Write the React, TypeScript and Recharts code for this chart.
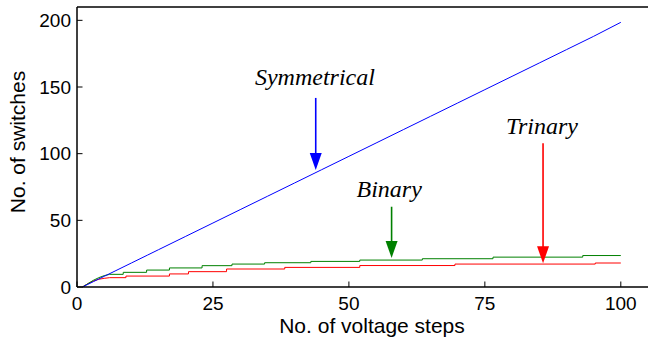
import React from "react";
import { LineChart, Line, XAxis, YAxis, ReferenceLine, ReferenceDot } from "recharts";

// voltage steps (x) and number of switches (y) per topology
const symSteps = [1, 2, 3, 5, 7, 10, 13, 15, 20, 25, 30, 35, 40, 45, 50, 55, 60, 65, 70, 75, 80, 85, 90, 95, 100];
const symValues = [0, 2, 4, 8, 12, 18, 24, 28, 38, 48, 58, 68, 78, 88, 98, 108, 118, 128, 138, 148, 158, 168, 178, 188, 198.5];

const binSteps = [1, 2, 3, 4, 5, 6, 8.5, 8.5, 12.8, 12.8, 17, 17, 23, 23, 28.5, 28.5, 34.5, 34.5, 43, 43, 52, 52, 63.5, 63.5, 76.5, 76.5, 93, 93, 100];
const binValues = [0, 2.5, 5, 7, 8.5, 9.5, 9.5, 11, 11, 12.7, 12.7, 14.3, 14.3, 16, 16, 17.2, 17.2, 18.2, 18.2, 19.2, 19.2, 20.2, 20.2, 21.2, 21.2, 22.4, 22.4, 23.6, 23.6];

const triSteps = [1, 2, 3, 4, 5, 6, 9, 9, 17, 17, 20.5, 20.5, 27.5, 27.5, 38.2, 38.2, 52, 52, 69.5, 69.5, 95.3, 95.3, 100];
const triValues = [0, 2.5, 4.5, 5.8, 6.5, 7, 7, 8.2, 8.2, 9.8, 9.8, 11.5, 11.5, 13.5, 13.5, 14.7, 14.7, 16.1, 16.1, 17.2, 17.2, 18, 18];

const xTicks = [0, 25, 50, 75, 100];
const yTicks = [0, 50, 100, 150, 200];

const labels = ["Symmetrical", "Binary", "Trinary"];
const colors = ["#0000ff", "#008000", "#ff0000"];
const arrowX = [43.9, 57.85, 85.7];
const arrowTail = [141.8, 60.2, 107.8];
const arrowTip = [87.8, 21.8, 17.8];
const labelX = [43.75, 57.4, 85.5];
const labelY = [151.5, 67.7, 114.8];

const toRows = (xs: number[], ys: number[]) => xs.map((n, i) => ({ n, v: ys[i] }));
const symData = toRows(symSteps, symValues);
const binData = toRows(binSteps, binValues);
const triData = toRows(triSteps, triValues);

const SANS = "Liberation Sans, Arial, sans-serif";
const SERIF = "Liberation Serif, Times New Roman, serif";
const TICK = 5.5;

const BottomTick = (p: any) => (
  <g>
    <line x1={p.x} x2={p.x} y1={p.y} y2={p.y - TICK} stroke="#000" strokeWidth={1} />
    <text x={p.x} y={p.y + 23} textAnchor="middle" fontSize={19} style={{ fontFamily: SANS }} fill="#000">
      {p.payload.value}
    </text>
  </g>
);
const TopTick = (p: any) => (
  <line x1={p.x} x2={p.x} y1={p.y} y2={p.y + TICK} stroke="#000" strokeWidth={1} />
);
const LeftTick = (p: any) => (
  <g>
    <line x1={p.x} x2={p.x + TICK} y1={p.y} y2={p.y} stroke="#000" strokeWidth={1} />
    <text x={p.x - 6} y={p.y + 6.7} textAnchor="end" fontSize={19} style={{ fontFamily: SANS }} fill="#000">
      {p.payload.value}
    </text>
  </g>
);
const RightTick = (p: any) => (
  <line x1={p.x} x2={p.x - TICK} y1={p.y} y2={p.y} stroke="#000" strokeWidth={1} />
);

export default function App() {
  const W = 660;
  const H = 344;
  return (
    <div style={{ position: "absolute", left: 0, top: 0, width: W, height: H, background: "#fff" }}>
      <LineChart width={W} height={H} margin={{ top: 6, right: W - 649, bottom: 56, left: 76 }}>
        <XAxis
          type="number"
          dataKey="n"
          domain={[0, 105]}
          ticks={xTicks}
          interval={0}
          height={1}
          tickSize={0}
          tickMargin={0}
          tickLine={false}
          axisLine={{ stroke: "#000", strokeWidth: 1.5 }}
          tick={BottomTick}
          label={{
            content: () => (
              <text x={372} y={333} textAnchor="middle" fontSize={21} style={{ fontFamily: SANS }} fill="#000">
                No. of voltage steps
              </text>
            ),
          }}
        />
        <XAxis
          xAxisId="top"
          orientation="top"
          type="number"
          domain={[0, 105]}
          ticks={xTicks}
          interval={0}
          height={1}
          tickSize={0}
          tickMargin={0}
          tickLine={false}
          axisLine={{ stroke: "#000", strokeWidth: 1.5 }}
          tick={TopTick}
        />
        <YAxis
          type="number"
          domain={[0, 210]}
          ticks={yTicks}
          interval={0}
          width={1}
          tickSize={0}
          tickMargin={0}
          tickLine={false}
          axisLine={{ stroke: "#000", strokeWidth: 1.5 }}
          tick={LeftTick}
          label={{
            content: () => (
              <text
                x={17}
                y={142}
                transform="rotate(-90 17 142)"
                textAnchor="middle"
                dominantBaseline="central"
                fontSize={21}
                style={{ fontFamily: SANS }}
                fill="#000"
              >
                No. of switches
              </text>
            ),
          }}
        />
        <YAxis
          yAxisId="right"
          orientation="right"
          type="number"
          domain={[0, 210]}
          ticks={yTicks}
          interval={0}
          width={1}
          tickSize={0}
          tickMargin={0}
          tickLine={false}
          axisLine={false}
          tick={RightTick}
        />

        <Line data={triData} dataKey="v" type="linear" stroke={colors[2]} strokeWidth={1} dot={false} isAnimationActive={false} />
        <Line data={binData} dataKey="v" type="linear" stroke={colors[1]} strokeWidth={1} dot={false} isAnimationActive={false} />
        <Line data={symData} dataKey="v" type="linear" stroke={colors[0]} strokeWidth={1} dot={false} isAnimationActive={false} />

        {labels.map((t, i) => (
          <ReferenceLine
            key={`shaft-${t}`}
            segment={[
              { x: arrowX[i], y: arrowTail[i] },
              { x: arrowX[i], y: arrowTip[i] + 3 },
            ]}
            stroke={colors[i]}
            strokeWidth={1.6}
          />
        ))}
        {labels.map((t, i) => (
          <ReferenceDot
            key={`head-${t}`}
            x={arrowX[i]}
            y={arrowTip[i]}
            r={0}
            shape={(p: any) => (
              <path
                d={`M${p.cx},${p.cy} L${p.cx - 6},${p.cy - 17} L${p.cx + 6},${p.cy - 17} Z`}
                fill={colors[i]}
                stroke="none"
              />
            )}
          />
        ))}
        {labels.map((t, i) => (
          <ReferenceDot
            key={`label-${t}`}
            x={labelX[i]}
            y={labelY[i]}
            r={0}
            shape={(p: any) => (
              <text
                x={p.cx}
                y={p.cy}
                textAnchor="middle"
                fontSize={24}
                style={{ fontFamily: SERIF, fontStyle: "italic", fontWeight: 400 }}
                fill="#000"
              >
                {t}
              </text>
            )}
          />
        ))}
      </LineChart>
    </div>
  );
}
